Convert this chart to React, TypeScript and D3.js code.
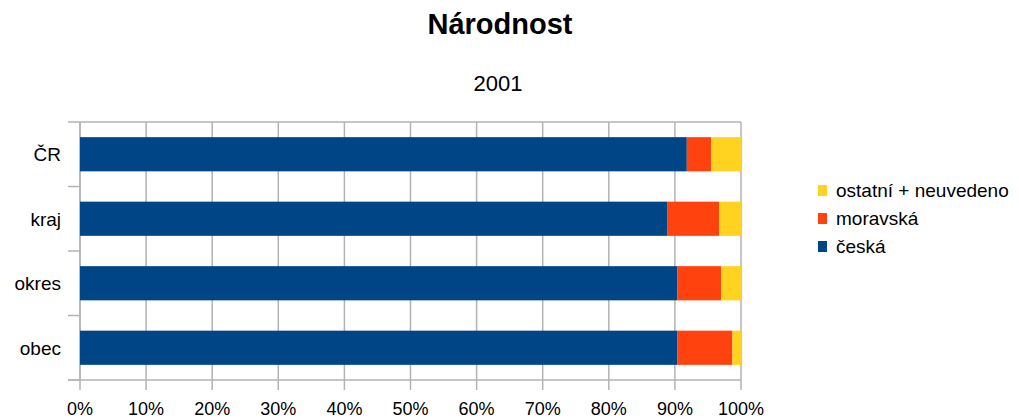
import React, { useRef, useEffect } from 'react';
import * as d3 from 'd3';

// categories top to bottom
const categories = ['ČR', 'kraj', 'okres', 'obec'];

// shares (%) per series, same order as categories
const ceska = [91.8, 88.9, 90.4, 90.4];
const moravska = [3.7, 7.8, 6.6, 8.3];
const ostatni = [4.5, 3.3, 3.0, 1.3];

const seriesNames = ['česká', 'moravská', 'ostatní + neuvedeno'];
const seriesColors = ['#004586', '#ff420e', '#ffd320'];

const xTicks = [0, 10, 20, 30, 40, 50, 60, 70, 80, 90, 100];

const FONT = '"Liberation Sans", Arial, sans-serif';
const W = 1019;
const H = 420;

const App = () => {
  const ref = useRef<SVGSVGElement>(null);

  useEffect(() => {
    const svg = d3.select(ref.current);
    svg.selectAll('*').remove();

    const left = 80, right = 741, top = 122, bottom = 380;

    const rows = categories.map((c, i) => ({ cat: c, values: [ceska[i], moravska[i], ostatni[i]] }));
    const stacked = d3.stack<any>()
      .keys([0, 1, 2] as any)
      .value((d, k) => d.values[k as any])(rows);

    const x = d3.scaleLinear().domain([0, 100]).range([left, right]);
    const y = d3.scaleBand().domain(categories).range([top, bottom])
      .paddingInner(0.47).paddingOuter(0.235);

    const grid = '#b3b3b3';

    // top border
    svg.append('line')
      .attr('x1', left).attr('x2', right).attr('y1', top).attr('y2', top)
      .attr('stroke', grid).attr('stroke-width', 1.5);

    // vertical gridlines + ticks
    svg.append('g').selectAll('line')
      .data(xTicks)
      .join('line')
      .attr('x1', d => x(d)).attr('x2', d => x(d))
      .attr('y1', top).attr('y2', bottom + 10)
      .attr('stroke', grid).attr('stroke-width', 1.5);

    // bottom axis line
    svg.append('line')
      .attr('x1', left - 12).attr('x2', right).attr('y1', bottom).attr('y2', bottom)
      .attr('stroke', grid).attr('stroke-width', 1.5);

    // left axis line + category boundary ticks
    svg.append('line')
      .attr('x1', left).attr('x2', left).attr('y1', top).attr('y2', bottom)
      .attr('stroke', grid).attr('stroke-width', 1.5);
    const bounds = categories.map(c => (y(c) as number) - y.step() * y.paddingInner() / 2);
    bounds[0] = top;
    svg.append('g').selectAll('line')
      .data([...bounds, bottom])
      .join('line')
      .attr('x1', left - 12).attr('x2', left)
      .attr('y1', d => d).attr('y2', d => d)
      .attr('stroke', grid).attr('stroke-width', 1.5);

    // bars
    svg.append('g').selectAll('g')
      .data(stacked)
      .join('g')
      .attr('fill', (d, i) => seriesColors[i])
      .selectAll('rect')
      .data(d => d)
      .join('rect')
      .attr('x', d => x(d[0]))
      .attr('width', d => x(d[1]) - x(d[0]))
      .attr('y', d => y(d.data.cat) as number)
      .attr('height', y.bandwidth());

    // x tick labels
    svg.append('g').selectAll('text')
      .data(xTicks)
      .join('text')
      .attr('x', d => x(d))
      .attr('y', 415)
      .attr('text-anchor', 'middle')
      .style('font-family', FONT)
      .style('font-size', '18px')
      .attr('fill', '#000')
      .text(d => d + '%');

    // category labels
    svg.append('g').selectAll('text')
      .data(categories)
      .join('text')
      .attr('x', 61)
      .attr('y', d => (y(d) as number) + y.bandwidth() / 2 + 7)
      .attr('text-anchor', 'end')
      .style('font-family', FONT)
      .style('font-size', '19px')
      .attr('fill', '#000')
      .text(d => d);

    // title + subtitle
    svg.append('text')
      .attr('x', 500).attr('y', 34)
      .attr('text-anchor', 'middle')
      .style('font-family', FONT)
      .style('font-size', '29px')
      .style('font-weight', 'bold')
      .text('Národnost');
    svg.append('text')
      .attr('x', 498).attr('y', 91)
      .attr('text-anchor', 'middle')
      .style('font-family', FONT)
      .style('font-size', '22px')
      .text('2001');

    // legend (reverse order, like the original)
    const legend = svg.append('g');
    const order = [2, 1, 0];
    order.forEach((si, row) => {
      const ly = 197 + row * 28;
      legend.append('rect')
        .attr('x', 818).attr('y', ly - 12)
        .attr('width', 9).attr('height', 11)
        .attr('fill', seriesColors[si]);
      legend.append('text')
        .attr('x', 836).attr('y', ly)
        .style('font-family', FONT)
        .style('font-size', '19px')
        .text(seriesNames[si]);
    });
  }, []);

  return (
    <svg ref={ref} width={W} height={H}
      style={{ position: 'absolute', left: 0, top: 0, background: '#fff' }} />
  );
};

export default App;
